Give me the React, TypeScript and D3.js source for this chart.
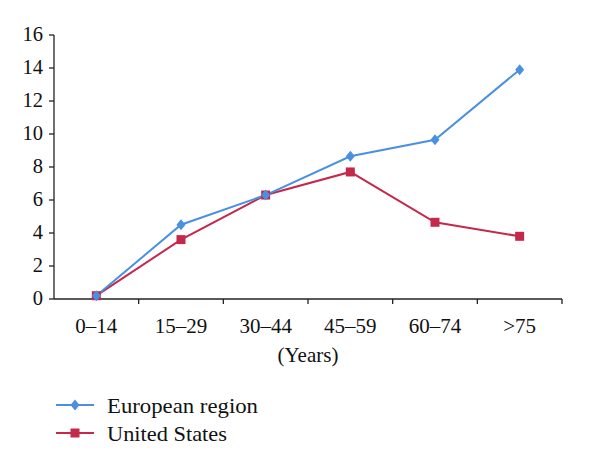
import React from "react";
import * as d3 from "d3";

const categories = ["0–14", "15–29", "30–44", "45–59", "60–74", ">75"];
const europe = [0.2, 4.5, 6.3, 8.65, 9.65, 13.9];
const us = [0.2, 3.6, 6.3, 7.7, 4.65, 3.8];
const yTicks = [0, 2, 4, 6, 8, 10, 12, 14, 16];
const seriesNames = ["European region", "United States"];

const FONT = "'Liberation Serif', 'DejaVu Serif', serif";
const BLUE = "#4a90e2";
const RED = "#c4284a";
const DIAMOND = "M0,-5.5L4.5,0L0,5.5L-4.5,0Z";

export default function App() {
  const W = 600, H = 469;
  const x = d3.scaleBand<string>().domain(categories).range([54, 562]);
  const y = d3.scaleLinear().domain([0, 16]).range([299, 35]);
  const cx = (c: string) => (x(c) as number) + x.bandwidth() / 2;
  const line = d3.line<[string, number]>().x((d) => cx(d[0])).y((d) => y(d[1]));
  const eu = categories.map((c, i) => [c, europe[i]] as [string, number]);
  const usd = categories.map((c, i) => [c, us[i]] as [string, number]);

  return (
    <svg width={W} height={H} style={{ position: "absolute", left: 0, top: 0, background: "#fff" }}>
      {/* y axis */}
      <line x1={54} x2={54} y1={35} y2={299} stroke="#222" strokeWidth={1.3} />
      {yTicks.map((t) => (
        <g key={t}>
          <line x1={49} x2={54} y1={y(t)} y2={y(t)} stroke="#222" strokeWidth={1.3} />
          <text x={43} y={y(t) - 1} dy="0.35em" textAnchor="end" fontFamily={FONT} fontSize={20.5} fill="#111">
            {t}
          </text>
        </g>
      ))}
      {/* x axis */}
      <line x1={54} x2={562} y1={299} y2={299} stroke="#222" strokeWidth={1.3} />
      {categories.map((c) => (
        <g key={c}>
          <line x1={(x(c) as number) + x.bandwidth()} x2={(x(c) as number) + x.bandwidth()} y1={299} y2={304} stroke="#222" strokeWidth={1.3} />
          <text x={cx(c)} y={326} dy="0.35em" textAnchor="middle" fontFamily={FONT} fontSize={21} fill="#111">
            {c}
          </text>
        </g>
      ))}
      <text x={308} y={355} dy="0.35em" textAnchor="middle" fontFamily={FONT} fontSize={21} fill="#111">
        (Years)
      </text>
      {/* lines */}
      <path d={line(usd) as string} fill="none" stroke={RED} strokeWidth={2} />
      <path d={line(eu) as string} fill="none" stroke={BLUE} strokeWidth={2} />
      {usd.map((d) => (
        <rect key={"u" + d[0]} x={cx(d[0]) - 4.5} y={y(d[1]) - 4.5} width={9} height={9} fill={RED} />
      ))}
      {eu.map((d) => (
        <path key={"e" + d[0]} d={DIAMOND} transform={`translate(${cx(d[0])},${y(d[1])})`} fill={BLUE} />
      ))}
      {/* legend */}
      <g>
        <line x1={56} x2={94} y1={405} y2={405} stroke={BLUE} strokeWidth={2} />
        <path d={DIAMOND} transform="translate(75,405)" fill={BLUE} />
        <text x={107} y={405} dy="0.35em" fontFamily={FONT} fontSize={22} textLength={151} lengthAdjust="spacingAndGlyphs" fill="#111">
          {seriesNames[0]}
        </text>
        <line x1={56} x2={94} y1={433} y2={433} stroke={RED} strokeWidth={2} />
        <rect x={70.5} y={428.5} width={9} height={9} fill={RED} />
        <text x={107} y={433} dy="0.35em" fontFamily={FONT} fontSize={22} textLength={120} lengthAdjust="spacingAndGlyphs" fill="#111">
          {seriesNames[1]}
        </text>
      </g>
    </svg>
  );
}
